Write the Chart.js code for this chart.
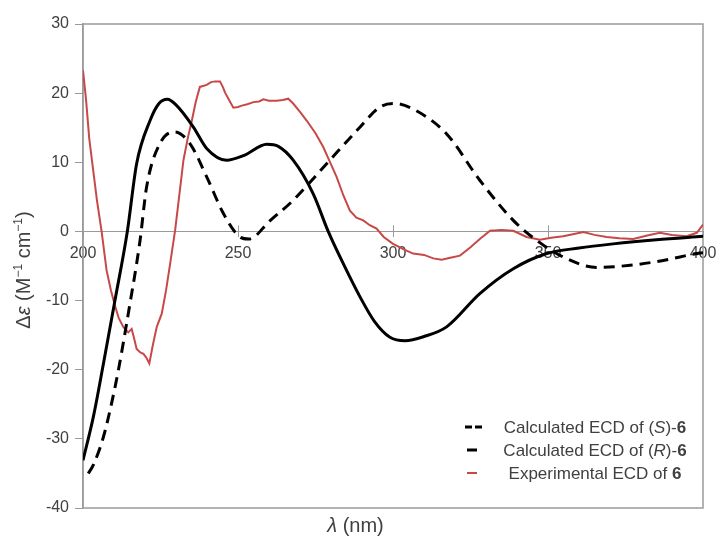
<!DOCTYPE html>
<html>
<head>
<meta charset="utf-8">
<script src="https://cdn.jsdelivr.net/npm/chart.js@4.4.1/dist/chart.umd.min.js"></script>
<style>
  html, body { margin: 0; padding: 0; background: #fff; }
  #wrap { width: 719px; height: 545px; position: relative; }
</style>
</head>
<body>
<div id="wrap"><canvas id="ecd"></canvas></div>
<script>
// ---------------------------------------------------------------------
// ECD spectra of 6
// ---------------------------------------------------------------------

// Calculated ECD of (S)-6 (dashed)
const calcS_nm = [201.7, 203.3, 206.6, 209.2, 211.4, 214.6, 218.4, 220.5, 224.8, 229.7, 234.5, 239.9, 245.3, 250.6, 253.5, 256, 259.3, 267.8, 278.6, 289.4, 295.8, 300.5, 306.5, 317.3, 328, 338.8, 346.4, 354.9, 365.7, 376.5, 387.2, 398, 400];
const calcS_de = [-35, -33.8, -29.7, -24.9, -20.1, -11.9, -1.3, 6.4, 12.7, 14.4, 12.7, 7.9, 2.6, -0.8, -1.1, -0.5, 1.1, 4.5, 9.8, 15.1, 18.0, 18.5, 17.7, 14.1, 7.4, 1.6, -1.3, -3.7, -5.2, -4.9, -4.2, -3.2, -3.1];

// Calculated ECD of (R)-6 (solid)
const calcR_nm = [200, 203.3, 206.6, 210.3, 214.3, 217.3, 221.6, 224.5, 227.2, 230, 235.6, 239.9, 246.3, 252, 259.3, 263, 267.8, 274.3, 279.1, 284, 289.4, 294, 299, 303.9, 310, 317.3, 328, 338.8, 349.6, 360, 371, 385, 400];
const calcR_de = [-33.1, -26.9, -19.1, -10, 0, 9.8, 16, 18.5, 19.1, 18.3, 15.1, 12.0, 10.3, 11, 12.6, 12.3, 10.3, 5.4, 0, -4.7, -9.5, -13, -15.3, -15.8, -15.2, -13.8, -9.0, -5.4, -3.2, -2.4, -1.8, -1.2, -0.7];

// Experimental ECD of 6 (red)
const exp_nm = [200, 201, 202, 203.3, 204.5, 206, 207.6, 209, 210.3, 211.5, 213, 214.6, 215.7, 216.5, 217.3, 218.5, 219.5, 220.5, 221.4, 222.5, 223.8, 225.4, 226.8, 228.1, 229.7, 231, 232.4, 233.8, 235.1, 236.4, 237.7, 239.9, 241.3, 242.6, 244.2, 245.2, 245.8, 246.9, 248.5, 250, 251.2, 253, 255, 256.8, 258.2, 260, 262.5, 264.5, 266.2, 267.8, 270, 272.2, 275, 277.5, 279.5, 281.8, 284, 286.1, 288.2, 290.4, 292.5, 294.7, 297, 300, 304, 306.5, 310, 313, 315.7, 318.5, 321.6, 325, 328, 331.3, 335, 338.8, 343.1, 347.4, 351, 354.9, 358, 361.4, 365, 368.9, 373, 377.5, 382, 386.1, 390, 394.7, 398, 400];
const exp_de = [23.3, 19, 13.5, 8.8, 4.5, 0, -5.6, -8.5, -10.7, -12.5, -13.8, -14.6, -14.1, -15.5, -17.0, -17.5, -17.7, -18.3, -19.1, -16.5, -13.8, -11.9, -8.5, -4.7, 0.1, 5, 10.3, 13.5, 16, 18.8, 20.9, 21.2, 21.6, 21.7, 21.7, 20.8, 20.1, 19.2, 17.9, 18.0, 18.2, 18.4, 18.7, 18.8, 19.1, 18.9, 18.9, 19.0, 19.2, 18.5, 17.3, 16, 14.2, 12.2, 10.2, 7.9, 5.2, 3.0, 2.0, 1.6, 0.9, 0.4, -0.8, -1.8, -2.7, -3.2, -3.4, -3.9, -4.1, -3.8, -3.5, -2.3, -1.1, 0.1, 0.2, 0.1, -0.8, -1.2, -0.9, -0.7, -0.4, -0.1, -0.5, -0.8, -1.0, -1.1, -0.6, -0.2, -0.5, -0.7, -0.2, 1.0];

// axis ranges / ticks
const X_MIN = 200, X_MAX = 400, X_STEP = 50;
const Y_MIN = -40, Y_MAX = 30, Y_STEP = 10;

// rich-text labels: [text, style]
const SERIES_LABELS = [
    [["Calculated ECD of (", ""], ["S", "italic"], [")-", ""], ["6", "bold"]],
    [["Calculated ECD of (", ""], ["R", "italic"], [")-", ""], ["6", "bold"]],
    [["Experimental ECD of ", ""], ["6", "bold"]]
];
const X_TITLE = [["λ", "italic"], [" (nm)", ""]];
const Y_TITLE = [["Δ", ""], ["ε", "italic"], [" (M", ""], ["−1", "sup"], [" cm", ""], ["−1", "sup"], [")", ""]];

const FONT = "'Liberation Sans', Arial, sans-serif";
const TEXT = "#404040";
const AXIS = "#9a9a9a";
const RED = "#c84848";

const pts = (xs, ys) => xs.map((x, i) => ({ x, y: ys[i] }));

function segFont(style, size) {
    if (style === "italic") return `italic ${size}px ${FONT}`;
    if (style === "bold") return `bold ${size}px ${FONT}`;
    if (style === "sup") return `${Math.round(size * 0.62)}px ${FONT}`;
    return `${size}px ${FONT}`;
}

function richWidth(ctx, segs, size) {
    let w = 0;
    segs.forEach(([t, s]) => { ctx.font = segFont(s, size); w += ctx.measureText(t).width; });
    return w;
}

function drawRich(ctx, segs, x, y, size) {
    segs.forEach(([t, s]) => {
        ctx.font = segFont(s, size);
        ctx.fillText(t, x, s === "sup" ? y - size * 0.38 : y);
        x += ctx.measureText(t).width;
    });
}

// frame around the plot + crossing ticks on the zero line
const framePlugin = {
    id: "frame",
    beforeDatasetsDraw(chart) {
        const { ctx, chartArea: a, scales } = chart;
        ctx.save();
        ctx.strokeStyle = AXIS;
        ctx.lineWidth = 1.5;
        ctx.strokeRect(a.left, a.top, a.right - a.left, a.bottom - a.top);
        const y0 = scales.y.getPixelForValue(0);
        ctx.lineWidth = 1;
        for (let v = X_MIN + X_STEP; v < X_MAX; v += X_STEP) {
            const px = Math.round(scales.x.getPixelForValue(v)) + 0.5;
            ctx.beginPath();
            ctx.moveTo(px, y0 - 6);
            ctx.lineTo(px, y0 + 5);
            ctx.stroke();
        }
        ctx.restore();
    }
};

// axis titles + legend with mixed italic/bold text
const textPlugin = {
    id: "texts",
    afterDraw(chart) {
        const { ctx, chartArea: a } = chart;
        ctx.save();
        ctx.fillStyle = TEXT;
        ctx.textBaseline = "alphabetic";
        ctx.textAlign = "left";

        // x title
        const xs = 20;
        const xw = richWidth(ctx, X_TITLE, xs);
        drawRich(ctx, X_TITLE, chart.width / 2 - 4 - xw / 2, 532, xs);

        // y title (rotated)
        const ys = 20;
        const yw = richWidth(ctx, Y_TITLE, ys);
        ctx.save();
        ctx.translate(30, (a.top + a.bottom) / 2 + 4);
        ctx.rotate(-Math.PI / 2);
        drawRich(ctx, Y_TITLE, -yw / 2, 0, ys);
        ctx.restore();

        // legend
        const ls = 17;
        chart.data.datasets.forEach((ds, i) => {
            const yRow = a.bottom - 81 + i * 23;
            const dashed = ds.borderDash && ds.borderDash.length;
            ctx.save();
            ctx.strokeStyle = ds.borderColor;
            ctx.lineWidth = dashed ? 3 : ds.borderWidth;
            ctx.setLineDash(dashed ? [7, 3] : []);
            ctx.beginPath();
            ctx.moveTo(dashed ? 465 : 467, yRow);
            ctx.lineTo(dashed ? 482 : 477, yRow);
            ctx.stroke();
            ctx.restore();
            const segs = SERIES_LABELS[i];
            const w = richWidth(ctx, segs, ls);
            drawRich(ctx, segs, 595 - w / 2, yRow + 6, ls);
        });
        ctx.restore();
    }
};

new Chart(document.getElementById("ecd"), {
    type: "line",
    data: {
        datasets: [
            {
                label: SERIES_LABELS[0].map(s => s[0]).join(""),
                data: pts(calcS_nm, calcS_de),
                borderColor: "#000", borderWidth: 3, borderDash: [11, 7],
                cubicInterpolationMode: "monotone", pointRadius: 0
            },
            {
                label: SERIES_LABELS[1].map(s => s[0]).join(""),
                data: pts(calcR_nm, calcR_de),
                borderColor: "#000", borderWidth: 3,
                cubicInterpolationMode: "monotone", pointRadius: 0
            },
            {
                label: SERIES_LABELS[2].map(s => s[0]).join(""),
                data: pts(exp_nm, exp_de),
                borderColor: RED, borderWidth: 2, tension: 0, pointRadius: 0
            }
        ]
    },
    options: {
        responsive: true, maintainAspectRatio: false, animation: false,
        layout: { padding: { left: 38, right: 16, top: 24, bottom: 37 } },
        plugins: { legend: { display: false }, tooltip: { enabled: false } },
        scales: {
            x: {
                type: "linear", position: { y: 0 }, min: X_MIN, max: X_MAX,
                ticks: { stepSize: X_STEP, color: TEXT, font: { family: FONT, size: 16 }, padding: 8, maxRotation: 0 },
                grid: { drawOnChartArea: false, tickLength: 5, color: AXIS },
                border: { color: AXIS, width: 1 },
                afterFit(scale) { scale.paddingLeft = 0; scale.paddingRight = 0; }
            },
            y: {
                min: Y_MIN, max: Y_MAX,
                ticks: { stepSize: Y_STEP, color: TEXT, font: { family: FONT, size: 16 }, padding: 6 },
                grid: { drawOnChartArea: false, tickLength: 8, color: AXIS },
                border: { color: AXIS, width: 1.5 },
                afterFit(scale) { scale.width = 45; scale.paddingTop = 0; scale.paddingBottom = 0; }
            }
        }
    },
    plugins: [framePlugin, textPlugin]
});
</script>
</body>
</html>
